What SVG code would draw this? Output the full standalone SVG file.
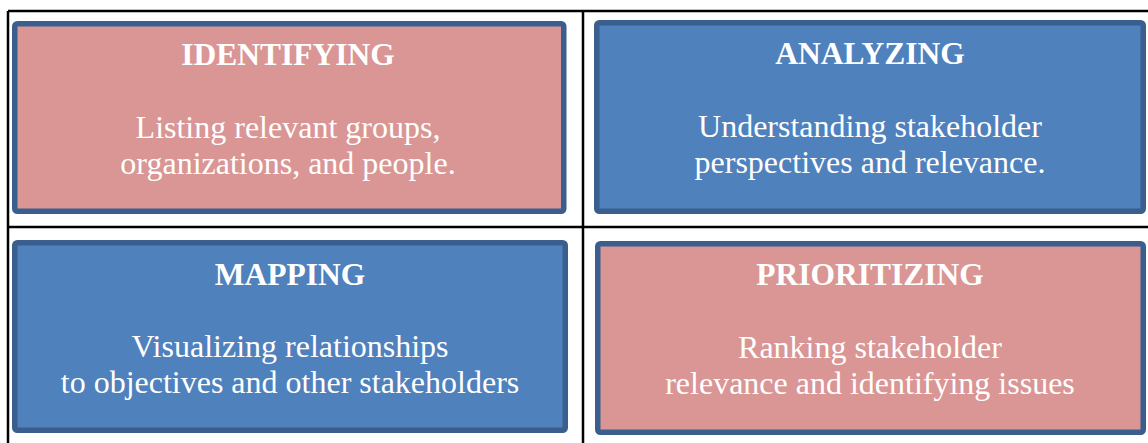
<svg xmlns="http://www.w3.org/2000/svg" width="1148" height="443" viewBox="0 0 1148 443">
  <style>
    .grid { stroke: #000000; stroke-width: 2.5; fill: none; }
    .card { stroke: #3A5F8E; stroke-width: 5.5; }
    .pink { fill: #D99694; }
    .blue { fill: #4F81BD; }
    .title { font-family: "Liberation Serif", "Times New Roman", serif; font-weight: bold; font-size: 31.5px; fill: #FFFFFF; text-anchor: middle; }
    .body { font-family: "Liberation Serif", "Times New Roman", serif; font-size: 32px; fill: #FFFFFF; text-anchor: middle; }
  </style>
  <rect x="0" y="0" width="1148" height="443" fill="#FFFFFF"/>

  <!-- table grid -->
  <g id="grid">
    <line class="grid" x1="8" y1="11" x2="1148" y2="11"/>
    <line class="grid" x1="8" y1="11" x2="8" y2="443"/>
    <line class="grid" x1="583" y1="11" x2="583" y2="443"/>
    <line class="grid" x1="8" y1="227" x2="1148" y2="227"/>
  </g>

  <g id="identifying">
    <rect class="card pink" x="14.75" y="23.75" width="549" height="187.5" rx="2.5"/>
    <text class="title" x="288" y="65">IDENTIFYING</text>
    <text class="body" x="288" y="138">Listing relevant groups,</text>
    <text class="body" x="288" y="174">organizations, and people.</text>
  </g>

  <g id="analyzing">
    <rect class="card blue" x="596.75" y="22.75" width="546.5" height="188.5" rx="2.5"/>
    <text class="title" x="870" y="64">ANALYZING</text>
    <text class="body" x="870" y="137">Understanding stakeholder</text>
    <text class="body" x="870" y="173">perspectives and relevance.</text>
  </g>

  <g id="mapping">
    <rect class="card blue" x="14.75" y="242.75" width="550.5" height="187.5" rx="2.5"/>
    <text class="title" x="290" y="285">MAPPING</text>
    <text class="body" x="290" y="357">Visualizing relationships</text>
    <text class="body" x="290" y="393">to objectives and other stakeholders</text>
  </g>

  <g id="prioritizing">
    <rect class="card pink" x="597.75" y="243.75" width="545.5" height="188.5" rx="2.5"/>
    <text class="title" x="870" y="285">PRIORITIZING</text>
    <text class="body" x="870" y="358">Ranking stakeholder</text>
    <text class="body" x="870" y="394">relevance and identifying issues</text>
  </g>

  <!-- no connectors in this figure -->
  <g id="connectors"/>
</svg>
